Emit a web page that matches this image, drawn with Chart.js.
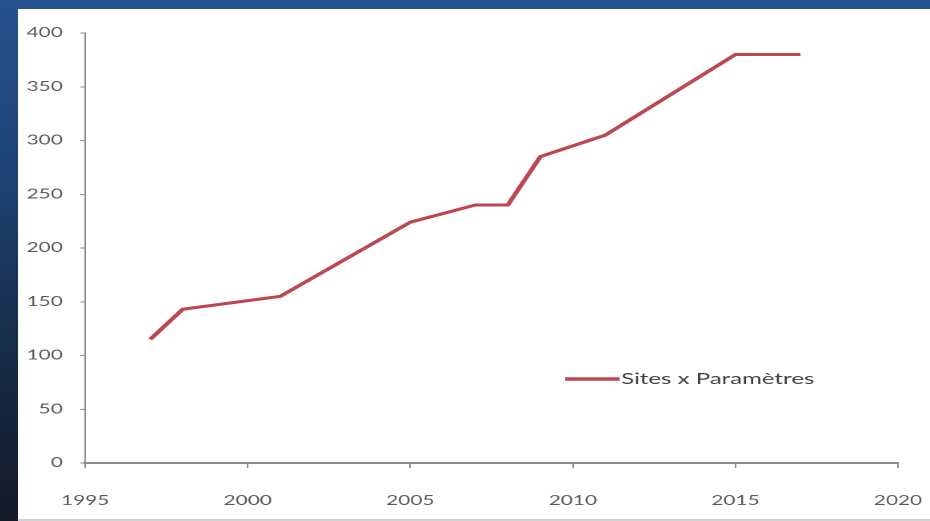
<!DOCTYPE html>
<html>
<head>
<meta charset="utf-8">
<script src="https://cdn.jsdelivr.net/npm/chart.js@4.4.1/dist/chart.umd.min.js"></script>
<style>
  html, body { margin: 0; padding: 0; }
  body {
    width: 930px; height: 521px; overflow: hidden; position: relative;
    background: linear-gradient(180deg, #25528f 0%, #1e4273 35%, #17304f 60%, #141a28 100%);
  }
  #panel {
    position: absolute; left: 18px; top: 9px; width: 912px; height: 510px;
    background: #ffffff;
    border-bottom: 2px solid #d2d2d2;
  }
</style>
</head>
<body>
<!-- l'image d'origine est étirée horizontalement : style inline pour que Chart.js le garde -->
<div id="panel"><canvas id="siteChart" width="570" height="510" style="width:912px;height:510px;"></canvas></div>
<script>
// Données
var annees = [1997, 1998, 2001, 2005, 2007, 2008, 2009, 2011, 2015, 2017];
var valeurs = [115, 143, 155, 224, 240, 240, 285, 305, 380, 380];
var serieNom = "Sites x Paramètres";
var yTicks = [0, 50, 100, 150, 200, 250, 300, 350, 400];
var xTicks = [1995, 2000, 2005, 2010, 2015, 2020];

var points = annees.map(function (a, i) { return { x: a, y: valeurs[i] }; });

// Légende dessinée dans la zone du graphique
var legendeInterne = {
    id: 'legendeInterne',
    afterDraw: function (chart) {
        var c = chart.ctx;
        var ds = chart.data.datasets[0];
        c.save();
        c.strokeStyle = ds.borderColor;
        c.lineWidth = 3.5;
        c.beginPath();
        c.moveTo(342, 370);
        c.lineTo(376, 370);
        c.stroke();
        c.fillStyle = '#404040';
        c.font = '15px Lato';
        c.textBaseline = 'middle';
        c.fillText(ds.label, 377, 370);
        c.restore();
    }
};

var ctx = document.getElementById("siteChart");
var myChart = new Chart(ctx, {
    type: 'line',
    data: {
        datasets: [{
            label: serieNom,
            data: points,
            borderColor: "#bb4750",
            borderWidth: 3,
            pointRadius: 0,
            lineTension: 0,
            fill: false
        }]
    },
    options: {
        responsive: false,
        animation: false,
        devicePixelRatio: 2,
        layout: {
            padding: { top: 24, right: 20, bottom: 0, left: 0 }
        },
        scales: {
            x: {
                type: 'linear',
                min: 1995,
                max: 2020,
                afterBuildTicks: function (scale) {
                    scale.ticks = xTicks.map(function (v) { return { value: v }; });
                },
                afterFit: function (scale) {
                    scale.height = 56;
                    scale.paddingRight = 0;
                },
                grid: {
                    drawOnChartArea: false,
                    drawTicks: true,
                    tickLength: 5,
                    color: '#8c8c8c'
                },
                border: { color: '#8c8c8c', width: 2 },
                ticks: {
                    color: '#595959',
                    padding: 25,
                    maxRotation: 0,
                    font: { family: 'Lato', size: 13 },
                    callback: function (v) { return String(v); }
                }
            },
            y: {
                min: 0,
                max: 400,
                afterBuildTicks: function (scale) {
                    scale.ticks = yTicks.map(function (v) { return { value: v }; });
                },
                afterFit: function (scale) { scale.width = 42; },
                grid: {
                    drawOnChartArea: false,
                    drawTicks: true,
                    tickLength: 3,
                    color: '#8c8c8c'
                },
                border: { color: '#8c8c8c', width: 1 },
                ticks: {
                    color: '#595959',
                    padding: 11,
                    font: { family: 'Lato', size: 13 }
                }
            }
        },
        plugins: {
            legend: { display: false },
            tooltip: { enabled: false }
        }
    },
    plugins: [legendeInterne]
});
</script>
</body>
</html>
